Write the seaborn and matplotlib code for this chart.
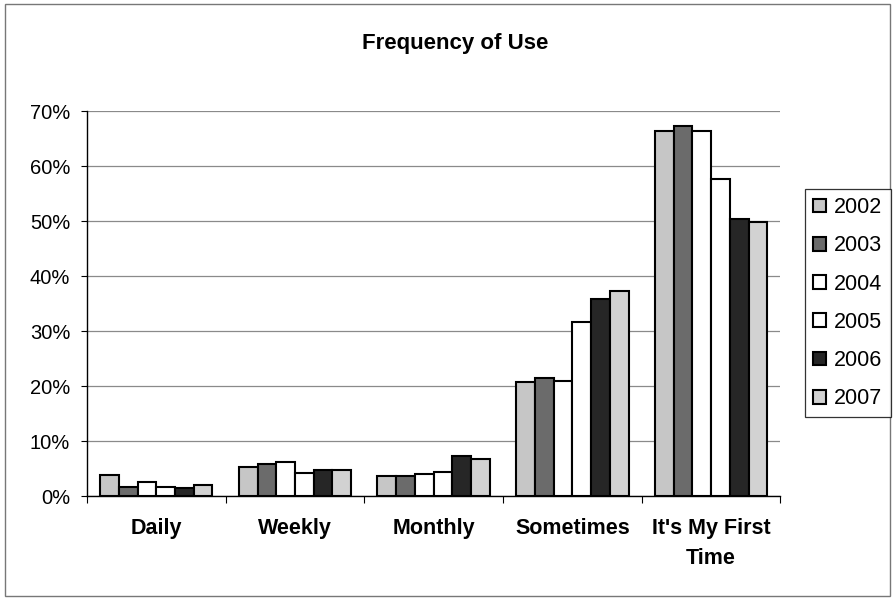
"""
Frequency of Use - grouped bar chart by year.
"""

import pandas as pd
import matplotlib
matplotlib.use('Agg')
import matplotlib.pyplot as plt
import seaborn as sns
from matplotlib.patches import Rectangle
from matplotlib.ticker import PercentFormatter, FixedLocator

categories = ['Daily', 'Weekly', 'Monthly', 'Sometimes', "It's My First\nTime"]
years = ['2002', '2003', '2004', '2005', '2006', '2007']

# share of respondents (%) per year, one list per category
daily = [3.9, 1.7, 2.5, 1.7, 1.4, 2.1]
weekly = [5.3, 5.8, 6.2, 4.3, 4.8, 4.8]
monthly = [3.6, 3.6, 4.0, 4.4, 7.3, 6.7]
sometimes = [20.7, 21.5, 21.0, 31.7, 35.8, 37.2]
first_time = [66.4, 67.3, 66.4, 57.6, 50.4, 49.9]

year_colors = ['#c6c6c6', '#6b6b6b', '#ffffff', '#ffffff', '#262626', '#d2d2d2']


def build_frame():
    rows = []
    for cat, vals in zip(categories, [daily, weekly, monthly, sometimes, first_time]):
        for yr, v in zip(years, vals):
            rows.append({'category': cat, 'year': yr, 'value': v / 100.0})
    return pd.DataFrame(rows)


def main():
    df = build_frame()

    sns.set_theme(style='white')
    plt.rcParams['font.family'] = ['Liberation Sans', 'DejaVu Sans']
    plt.rcParams['text.color'] = 'black'
    plt.rcParams['xtick.color'] = 'black'
    plt.rcParams['ytick.color'] = 'black'
    plt.rcParams['xtick.labelcolor'] = 'black'
    plt.rcParams['ytick.labelcolor'] = 'black'

    fig = plt.figure(figsize=(8.96, 6.0), dpi=100)
    ax = fig.add_axes([0.097, 0.173, 0.774, 0.642])

    sns.barplot(data=df, x='category', y='value', hue='year',
                palette=year_colors, width=0.81, gap=0,
                edgecolor='black', linewidth=1.5, ax=ax, zorder=3)

    ax.set_ylim(0, 0.70)
    ax.set_xlim(-0.5, len(categories) - 0.5)
    ax.yaxis.set_major_formatter(PercentFormatter(1.0, decimals=0))
    ax.set_yticks([i / 10 for i in range(8)])
    ax.yaxis.grid(True, color='#8a8a8a', linewidth=0.9, zorder=0)
    ax.set_axisbelow(True)

    ax.set_xlabel('')
    ax.set_ylabel('')
    ax.tick_params(axis='y', labelsize=14.5, length=4, left=True, width=0.8,
                   color='black', labelcolor='black', pad=8)
    ax.tick_params(axis='x', labelsize=15.5, length=0, pad=16, labelcolor='black')
    for lbl in ax.get_xticklabels():
        lbl.set_fontweight('bold')
        lbl.set_linespacing(1.55)

    # tick marks between categories, Excel style
    ax.xaxis.set_minor_locator(FixedLocator([i + 0.5 for i in range(-1, len(categories))]))
    ax.tick_params(axis='x', which='minor', length=5, bottom=True, width=0.8, color='black')

    for side in ['top', 'right']:
        ax.spines[side].set_visible(False)
    for side in ['left', 'bottom']:
        ax.spines[side].set_color('black')
        ax.spines[side].set_linewidth(1.0)

    ax.legend_.remove()
    handles, labels = ax.get_legend_handles_labels()
    leg = fig.legend(handles, labels, loc='upper left',
                     bbox_to_anchor=(0.898, 0.685), fontsize=15.5,
                     frameon=True, fancybox=False, edgecolor='black',
                     handlelength=0.6, handleheight=0.6, handletextpad=0.4,
                     labelspacing=0.8, borderpad=0.38, borderaxespad=0)
    leg.get_frame().set_linewidth(0.9)
    for t in leg.get_texts():
        t.set_color('black')

    fig.text(0.508, 0.927, 'Frequency of Use', ha='center', va='center',
             fontsize=16, fontweight='bold', color='black')

    # outer chart border
    fig.patches.append(Rectangle((0.006, 0.006), 0.987, 0.988, transform=fig.transFigure,
                                 fill=False, edgecolor='#777777', linewidth=1.0))

    fig.savefig('out.png', dpi=100)
    plt.close(fig)


if __name__ == '__main__':
    main()
